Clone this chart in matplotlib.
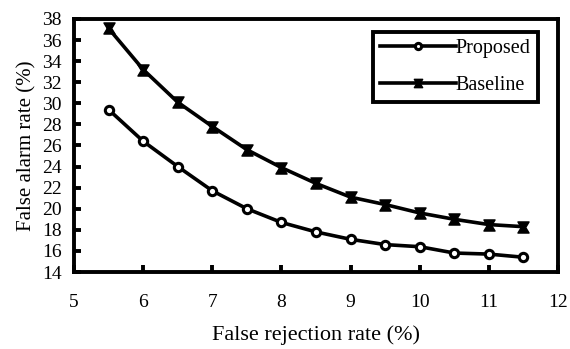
import matplotlib
matplotlib.use("Agg")
import matplotlib.pyplot as plt
from matplotlib.path import Path

plt.rcParams["font.family"] = ["Liberation Serif", "DejaVu Serif"]

frr = [5.5, 6, 6.5, 7, 7.5, 8, 8.5, 9, 9.5, 10, 10.5, 11, 11.5]
proposed = [29.4, 26.4, 24.0, 21.7, 20.0, 18.7, 17.8, 17.1, 16.6, 16.4, 15.8, 15.7, 15.4]
baseline = [37.1, 33.2, 30.1, 27.8, 25.6, 23.9, 22.4, 21.1, 20.4, 19.6, 19.0, 18.5, 18.3]

# hourglass marker for the baseline curve
hourglass = Path([(-1, 1), (1, 1), (0.4, 0), (1, -1), (-1, -1), (-0.4, 0), (-1, 1)],
                 [Path.MOVETO] + [Path.LINETO] * 5 + [Path.CLOSEPOLY])

fig = plt.figure(figsize=(5.7, 3.49), dpi=100)
ax = fig.add_axes([0.130, 0.2206, 0.849, 0.725])

ax.plot(frr, proposed, color="black", lw=2.6, marker="o", ms=6, mfc="white",
        mec="black", mew=2.2, label="Proposed")
ax.plot(frr, baseline, color="black", lw=2.6, marker=hourglass, ms=8,
        mfc="black", mec="black", label="Baseline")

ax.set_xlim(5, 12)
ax.set_ylim(14, 38)
ax.set_xticks(range(5, 13))
ax.set_yticks(range(14, 39, 2))
for s in ax.spines.values():
    s.set_linewidth(2.8)
ax.tick_params(direction="in", length=5, width=2.8, labelsize=14)
ax.tick_params(axis="x", pad=16)
ax.tick_params(axis="y", pad=9)

ax.set_xlabel("False rejection rate (%)", fontsize=16, labelpad=10)
ax.set_ylabel("False alarm rate (%)", fontsize=15, labelpad=4)

leg = ax.legend(loc="upper left", bbox_to_anchor=(0.618, 0.95), fontsize=14.5,
                fancybox=False, handlelength=3.75, handletextpad=0.0,
                borderpad=0.35, labelspacing=0.9, borderaxespad=0,
                framealpha=1, markerscale=0.75)
leg.get_frame().set_edgecolor("black")
leg.get_frame().set_linewidth(2.8)

fig.savefig("out.png", dpi=100)
